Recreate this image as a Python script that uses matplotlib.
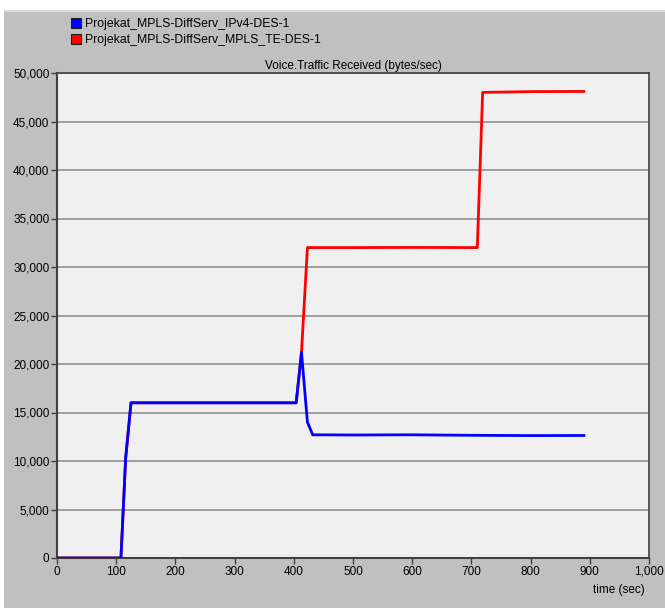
import matplotlib
matplotlib.use("Agg")
import matplotlib.pyplot as plt
from matplotlib.lines import Line2D
from matplotlib.patches import Rectangle
from matplotlib.ticker import FuncFormatter, MultipleLocator

plt.rcParams['font.family'] = ['Liberation Sans', 'DejaVu Sans']

# Data
ipv4_t = [0, 50, 108, 116, 125, 200, 300, 404, 413, 423, 432, 500, 600, 700, 800, 890]
ipv4_v = [0, 0, 0, 10300, 16000, 16000, 16000, 16000, 21200, 14000, 12700, 12680, 12700, 12650, 12620, 12630]

te_t = [0, 50, 108, 116, 125, 200, 300, 404, 413, 423, 500, 600, 710, 719, 800, 890]
te_v = [0, 0, 0, 10300, 16000, 16000, 16000, 16000, 21200, 32000, 32000, 32020, 32000, 48000, 48080, 48100]

series_names = ["Projekat_MPLS-DiffServ_IPv4-DES-1", "Projekat_MPLS-DiffServ_MPLS_TE-DES-1"]
series_colors = ["#0000ff", "#ff0000"]
title = "Voice.Traffic Received (bytes/sec)"
xlabel = "time (sec)"

fig = plt.figure(figsize=(6.65, 6.08), dpi=100, facecolor="#c0c0c0")
# white strip at top and left
fig.patches.append(Rectangle((0, 1 - 10/608), 1, 10/608, transform=fig.transFigure,
                             facecolor="white", edgecolor="none", zorder=-1))
fig.patches.append(Rectangle((0, 1 - 12/608), 1, 2/608, transform=fig.transFigure,
                             facecolor="#dcdcdc", edgecolor="none", zorder=-1))
fig.patches.append(Rectangle((0, 0), 4/665, 1 - 10/608, transform=fig.transFigure,
                             facecolor="white", edgecolor="none", zorder=-1))

ax = fig.add_axes([57/665, 50/608, (649-57)/665, (558-73)/608])
ax.set_facecolor("#f0f0f0")

ax.plot(te_t, te_v, color=series_colors[1], lw=2.0, zorder=3)
ax.plot(ipv4_t, ipv4_v, color=series_colors[0], lw=2.0, zorder=4)

ax.set_xlim(0, 1000)
ax.set_ylim(0, 50000)
ax.xaxis.set_major_locator(MultipleLocator(100))
ax.yaxis.set_major_locator(MultipleLocator(5000))
fmt = FuncFormatter(lambda v, p: f"{int(v):,}")
ax.xaxis.set_major_formatter(fmt)
ax.yaxis.set_major_formatter(fmt)
ax.yaxis.grid(True, color="#909090", lw=1.2)
ax.set_axisbelow(True)
ax.tick_params(axis='both', labelsize=8.5, length=4, width=1, color="#404040",
               labelcolor="black", pad=1.5)

for s in ['left', 'bottom']:
    ax.spines[s].set_color("#404040")
    ax.spines[s].set_linewidth(1.5)
for s in ['top', 'right']:
    ax.spines[s].set_color("#404040")
    ax.spines[s].set_linewidth(1.2)

ax.set_title(title, fontsize=8.5, pad=3)
fig.text(645/665, 1 - 590/608, xlabel, ha='right', va='center', fontsize=8.5)

handles = [Line2D([], [], ls='none', marker='s', markersize=7, markerfacecolor=c,
                  markeredgecolor="#202020", markeredgewidth=0.8) for c in series_colors]
fig.legend(handles, series_names, loc='upper left', bbox_to_anchor=(70/665, 1 - 18/608),
           frameon=False, fontsize=8.8, handlelength=0.9, handletextpad=0.35,
           labelspacing=0.35, borderpad=0, borderaxespad=0)

fig.savefig("out.png", dpi=100, facecolor=fig.get_facecolor())
